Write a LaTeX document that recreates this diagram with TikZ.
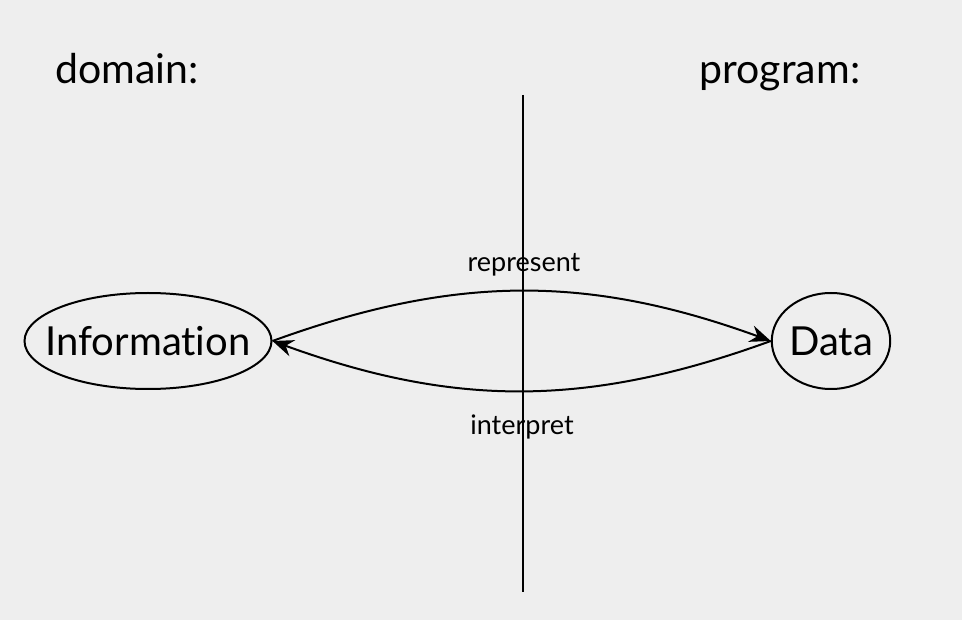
\documentclass[tikz,border=0pt]{standalone}
\usepackage{fontspec}
\setmainfont{Lato}[Ligatures=NoCommon]
\usetikzlibrary{shapes.geometric,arrows.meta}
\definecolor{fondo}{HTML}{EEEEEE}
\begin{document}
\begin{tikzpicture}[x=1pt,y=-1pt,line width=2pt,
    caja/.style={draw,ellipse,inner sep=0pt,font=\fontsize{40}{44}\selectfont},
    titulo/.style={anchor=base,font=\fontsize{41}{44}\selectfont},
    etiq/.style={anchor=base,font=\fontsize{27}{30}\selectfont},
    flecha/.style={-{Stealth[length=21pt,width=17pt,inset=7pt]}}]
                \fill[fondo] (0,0) rectangle (962,620); % fondo
                \useasboundingbox (0,0) rectangle (962,620);
                \node [titulo] (dom) at (127,84) {domain:};
                \node [titulo] (prog) at (780,84) {program:};
                \coordinate (arriba) at (523,95);
                \coordinate (abajo) at (523,592);
                \draw (arriba) -- (abajo); % linea divisoria
                \node [caja, inner xsep=-17pt, minimum width=247, minimum height=96] (info) at (148,341) {Information};
                \node [caja, minimum width=117, minimum height=96] (data) at (831,341) {Data};
                \draw[flecha] (info.east) to[bend left=20] (data.west);
                \draw[flecha] (data.west) to[bend left=20] (info.east);
                \node [etiq] (rep) at (524,272) {represent};
                \node [etiq] (int) at (522,435) {interpret};
                \end{tikzpicture}
\end{document}
